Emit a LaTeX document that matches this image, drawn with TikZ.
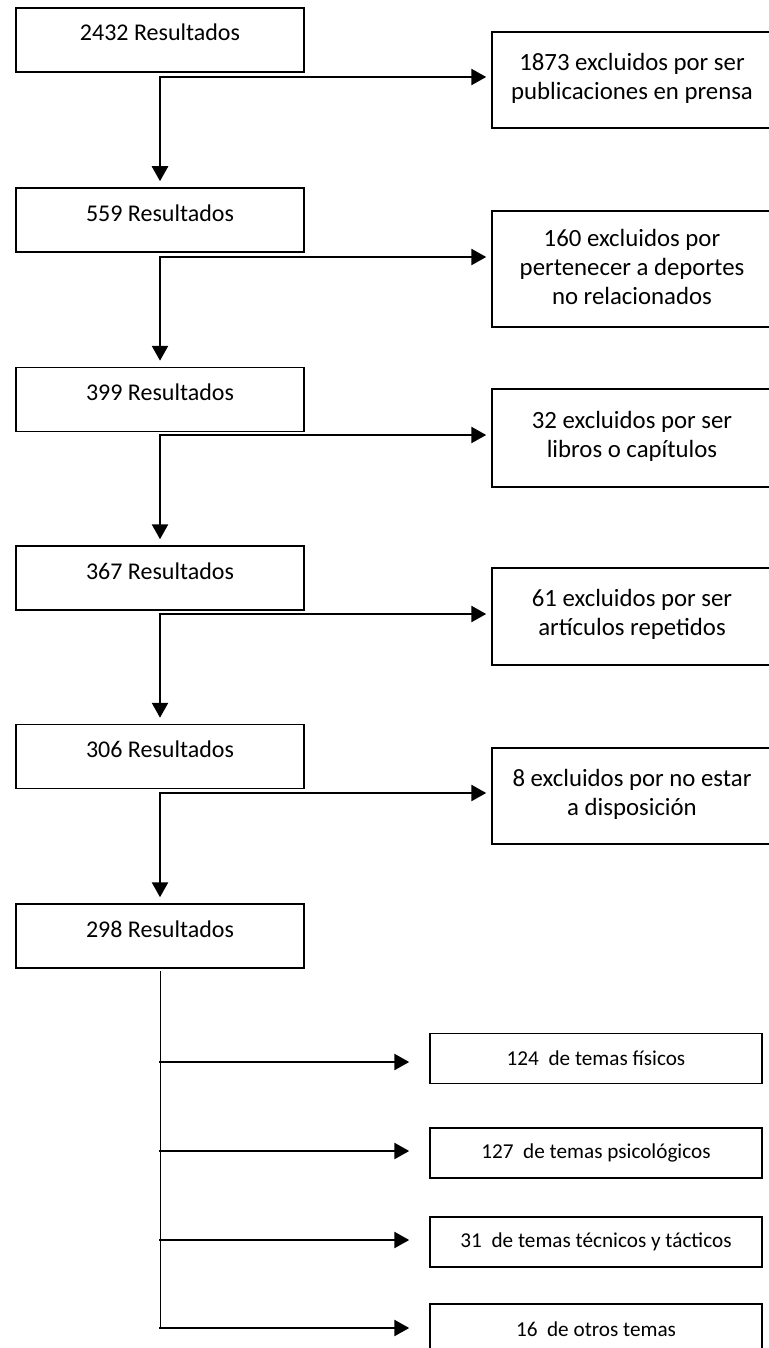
\documentclass[tikz,border=0pt]{standalone}
\usepackage{fontspec}
\setmainfont{Carlito}
\usetikzlibrary{arrows.meta}
\begin{document}
\begin{tikzpicture}[x=0.5pt,y=-0.5pt,
  lbox/.style={draw, line width=0.75pt, minimum width=144pt, minimum height=32pt, inner sep=0pt, text height=16.5pt, text depth=15.5pt, font=\fontsize{12}{14}\selectfont},
  rbox/.style={draw, line width=0.75pt, minimum width=148pt, inner sep=0pt},
  rtext/.style={align=center, inner sep=0pt, yshift=1pt, xshift=-4pt, font=\fontsize{12.4}{14.5}\selectfont},
  bbox/.style={draw, line width=0.75pt, minimum width=166pt, minimum height=25pt, inner sep=0pt, font=\fontsize{10.6}{13}\selectfont},
  arr/.style={line width=1.3pt, line cap=rect, -{Triangle[length=7.5pt,width=8pt]}},
  thinline/.style={line width=0.5pt}]
\useasboundingbox (0,0) rectangle (768,1348);
% left column
\node[lbox] (A1) at (160,40) {2432 Resultados};
\node[lbox] (A2) at (160,220) {559 Resultados};
\node[lbox] (A3) at (160,399.5) {399 Resultados};
\node[lbox] (A4) at (160,578) {367 Resultados};
\node[lbox] (A5) at (160,756.5) {306 Resultados};
\node[lbox] (A6) at (160,936) {298 Resultados};
% right column (right edge runs off the page)
\node[rbox, minimum height=48pt, label={[rtext]center:{1873 excluidos por ser\\publicaciones en prensa}}] (R1) at (640,80) {};
\node[rbox, minimum height=58pt, label={[rtext]center:{160 excluidos por\\pertenecer a deportes\\no relacionados}}] (R2) at (640,269) {};
\node[rbox, minimum height=49pt, label={[rtext]center:{32 excluidos por ser\\libros o capítulos}}] (R3) at (640,438) {};
\node[rbox, minimum height=48.5pt, label={[rtext]center:{61 excluidos por ser\\artículos repetidos}}] (R4) at (640,616.5) {};
\node[rbox, minimum height=48pt, label={[rtext]center:{8 excluidos por no estar\\a disposición}}] (R5) at (640,796) {};
% bottom boxes
\node[bbox] (B1) at (596,1058.5) {124~~de temas físicos};
\node[bbox] (B2) at (596,1153) {127~~de temas psicológicos};
\node[bbox] (B3) at (596,1242) {31~~de temas técnicos y tácticos};
\node[bbox] (B4) at (596,1329) {16~~de otros temas};
% junctions
\coordinate (c1) at (160,77);
\coordinate (c2) at (160,257);
\coordinate (c3) at (160,435);
\coordinate (c4) at (160,614);
\coordinate (c5) at (160,793);
\coordinate (t0) at (160,971);
\coordinate (t1) at (160,1062);
\coordinate (t2) at (160,1151);
\coordinate (t3) at (160,1240);
\coordinate (t4) at (160,1328);
% connectors
\foreach \c/\r/\n in {c1/R1/A2, c2/R2/A3, c3/R3/A4, c4/R4/A5, c5/R5/A6}{
  \draw[arr, shorten >=2.5pt] (\c) -- (\c -| \r.west);
  \draw[arr, shorten >=3pt] (\c) -- (\c |- \n.north);
}
\draw[thinline] (t0) -- (t4);
\foreach \t/\b in {t1/B1, t2/B2, t3/B3, t4/B4}{
  \draw[arr, shorten >=10pt] (\t) -- (\t -| \b.west);
}
\end{tikzpicture}
\end{document}
